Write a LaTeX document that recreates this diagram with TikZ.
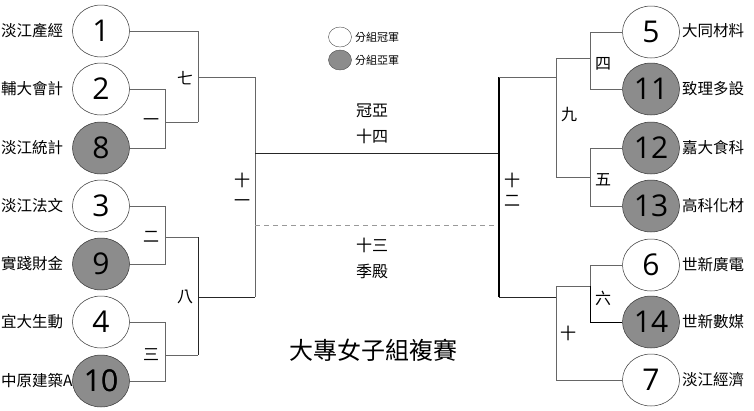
\documentclass[tikz,border=0pt]{standalone}
\usepackage{fontspec}
\setmainfont{Noto Sans CJK TC}
\newfontfamily\numfont{Open Sans}
\usetikzlibrary{shapes.geometric}
\tikzset{
  team/.style={ellipse,draw=black!80,line width=0.5pt,minimum width=57pt,minimum height=52pt,inner sep=0pt,font=\numfont\fontsize{30}{30}\selectfont},
  first/.style={team,fill=white},
  second/.style={team,fill=black!45},
  lbl/.style={inner sep=0pt,font=\fontsize{15.5}{16}\selectfont},
  rnd/.style={inner sep=0pt,font=\fontsize{16}{20}\selectfont,align=center},
  ctr/.style={inner sep=0pt,font=\fontsize{16}{26}\selectfont,align=center},
  br/.style={draw=black!60,line width=0.7pt},
  brd/.style={draw=black!85,line width=0.8pt},
  legw/.style={ellipse,draw=black!70,line width=0.4pt,minimum width=23pt,minimum height=20pt,inner sep=0pt},
  legtxt/.style={inner sep=0pt,font=\fontsize{11}{12}\selectfont,anchor=west}
}
\begin{document}
\begin{tikzpicture}[x=1pt,y=-1pt]
\useasboundingbox (0,0) rectangle (754,410);
% junction coordinates
\coordinate (m1) at (165,122);
\coordinate (m2) at (165,237);
\coordinate (m3) at (165,355);
\coordinate (a7t) at (198,31);
\coordinate (a7b) at (198,122);
\coordinate (a7m) at (198,77);
\coordinate (a8t) at (198,237);
\coordinate (a8b) at (198,355);
\coordinate (a8m) at (198,297);
\coordinate (e11t) at (255,77);
\coordinate (e11b) at (255,297);
\coordinate (e11f) at (255,153);
\coordinate (e11d) at (255,225);
\coordinate (e12t) at (499,77);
\coordinate (e12b) at (499,297);
\coordinate (e12f) at (499,153);
\coordinate (e12d) at (499,225);
\coordinate (r9t) at (556,58);
\coordinate (r9b) at (556,177);
\coordinate (r9m) at (556,77);
\coordinate (n4) at (590,58);
\coordinate (n5) at (590,177);
\coordinate (n6) at (590,286);
\coordinate (r10t) at (556,286);
\coordinate (r10m) at (556,297);
\coordinate (r10b) at (556,380);

% teams left
\node[first]  (c1)  at (101,31)  {1};
\node[first]  (c2)  at (101,89)  {2};
\node[second] (c8)  at (101,148) {8};
\node[first]  (c3)  at (101,206) {3};
\node[second] (c9)  at (101,264) {9};
\node[first]  (c4)  at (101,322) {4};
\node[second] (c10) at (101,381) {10};
% teams right
\node[first]  (c5)  at (651,32)  {5};
\node[second] (c11) at (651,89)  {11};
\node[second] (c12) at (651,148) {12};
\node[second] (c13) at (651,206) {13};
\node[first]  (c6)  at (651,265) {6};
\node[second] (c14) at (651,322) {14};
\node[first]  (c7)  at (651,380) {7};

% left names
\node[lbl,anchor=west] (t1)  at (1,31)  {淡江產經};
\node[lbl,anchor=west] (t2)  at (1,89)  {輔大會計};
\node[lbl,anchor=west] (t8)  at (1,148) {淡江統計};
\node[lbl,anchor=west] (t3)  at (1,206) {淡江法文};
\node[lbl,anchor=west] (t9)  at (1,264) {實踐財金};
\node[lbl,anchor=west] (t4)  at (1,322) {宜大生動};
\node[lbl,anchor=west] (t10) at (1,381) {中原建築A};
\node[font=\numfont\fontsize{30}{30}\selectfont,inner sep=0pt] (n10) at (c10) {10};
% right names
\node[lbl,anchor=west] (t5)  at (682,31)  {大同材料};
\node[lbl,anchor=west] (t11) at (682,89)  {致理多設};
\node[lbl,anchor=west] (t12) at (682,148) {嘉大食科};
\node[lbl,anchor=west] (t13) at (682,206) {高科化材};
\node[lbl,anchor=west] (t6)  at (682,265) {世新廣電};
\node[lbl,anchor=west] (t14) at (682,322) {世新數媒};
\node[lbl,anchor=west] (t7)  at (682,380) {淡江經濟};

% left brackets
\draw[br] (c1.east) -- (a7t) -- (a7b);
\draw[br] (c2.east) -| (m1);
\draw[br] (c8.east) -| (m1);
\draw[br] (m1) -- (a7b);
\draw[br] (a7m) -- (e11t);
\draw[br] (c3.east) -| (m2);
\draw[br] (c9.east) -| (m2);
\draw[br] (m2) -- (a8t);
\draw[br] (c4.east) -| (m3);
\draw[br] (c10.east) -| (m3);
\draw[br] (m3) -- (a8b);
\draw[brd] (a8t) -- (a8b);
\draw[brd] (a8m) -- (e11b);
\draw[br] (e11t) -- (e11b);
\draw[brd] (e11f) -- (e12f);
\draw[draw=black!40,line width=0.8pt,dash pattern=on 5pt off 4pt] (e11d) -- (e12d);
% right brackets
\draw[draw=black,line width=1.6pt] (e12t) -- (e12b);
\draw[br] (e12t) -- (r9m);
\draw[br] (r9t) -- (r9b);
\draw[br] (c5.west) -| (n4);
\draw[br] (c11.west) -| (n4);
\draw[br] (n4) -- (r9t);
\draw[br] (c12.west) -| (n5);
\draw[br] (c13.west) -| (n5);
\draw[br] (n5) -- (r9b);
\draw[brd] (e12b) -- (r10m);
\draw[br] (c7.west) -| (r10t);
\draw[br] (r10t) -- (n6);
\draw[br] (c6.west) -| (n6);
\draw[draw=black,line width=0.8pt] (c14.west) -| (n6);

% round labels
\node[rnd] (l7)  at (185,78)  {七};
\node[rnd] (l1)  at (151,122) {一};
\node[rnd] (l2)  at (151,237) {二};
\node[rnd] (l3)  at (151,355) {三};
\node[rnd] (l8)  at (185,297) {八};
\node[rnd] (l11) at (242,190) {十\\一};
\node[rnd] (l12) at (512,190) {十\\二};
\node[rnd] (l4)  at (603,64)  {四};
\node[rnd] (l9)  at (569,115) {九};
\node[rnd] (l5)  at (603,180) {五};
\node[rnd] (l6)  at (603,298) {六};
\node[rnd] (l10) at (568,333) {十};

% center
\node[ctr] (fin) at (372,124) {冠亞\\十四};
\node[ctr] (third) at (372,258) {十三\\季殿};
\node[inner sep=0pt,font=\fontsize{24}{24}\selectfont] (title) at (373,350) {大專女子組複賽};

% legend
\node[legw,fill=white] (lw) at (340,37) {};
\node[legw,fill=black!45] (lg) at (340,60) {};
\node[legtxt] (lwt) at (355,37) {分組冠軍};
\node[legtxt] (lgt) at (355,60) {分組亞軍};
\end{tikzpicture}
\end{document}
